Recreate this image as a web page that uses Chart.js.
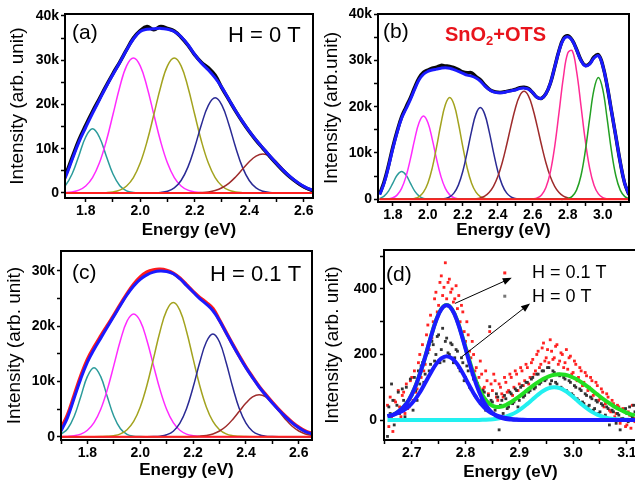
<!DOCTYPE html>
<html>
<head>
<meta charset="utf-8">
<script src="https://cdn.jsdelivr.net/npm/chart.js@4.4.0/dist/chart.umd.min.js"></script>
<style>
  html, body { margin: 0; padding: 0; background: #fff; overflow: hidden; }
  #page { position: relative; width: 635px; height: 485px; overflow: hidden; background: #fff; }
  #page canvas { position: absolute; }
</style>
</head>
<body>
<div id="page">
  <canvas id="chartC" width="320" height="250" style="left:0;top:235px"></canvas>
  <canvas id="chartD" width="330" height="250" style="left:320px;top:235px"></canvas>
  <canvas id="chartA" width="320" height="245" style="left:0;top:0"></canvas>
  <canvas id="chartB" width="315" height="245" style="left:320px;top:0"></canvas>
</div>
<script>
// ---------- (a) H = 0 T, intensities in k ----------
var energyA = [1.70, 1.725, 1.75, 1.775, 1.80, 1.825, 1.85, 1.875, 1.90, 1.925, 1.95, 1.975, 2.00, 2.025,
    2.05, 2.075, 2.10, 2.125, 2.15, 2.175, 2.20, 2.225, 2.25, 2.275, 2.30, 2.325, 2.35, 2.375, 2.40,
    2.425, 2.45, 2.475, 2.50, 2.525, 2.55, 2.575, 2.60, 2.625, 2.65];
var spectrumA = [1.2, 4.0, 8.0, 12.0, 15.3, 18.4, 21.3, 24.2, 27.0, 29.6, 32.4, 35.0, 36.7, 37.6, 36.9, 37.6,
    37.2, 36.6, 35.2, 33.4, 31.2, 29.5, 28.3, 26.6, 23.7, 21.1, 18.5, 16.1, 13.9, 11.9, 10.1, 8.3, 6.6,
    5.0, 3.6, 2.4, 1.4, 0.7, 0.3];
var fitA = [0.8, 3.5, 7.5, 11.5, 14.8, 18.0, 21.0, 24.0, 26.8, 29.5, 32.3, 34.8, 36.5, 37.0, 37.1, 37.2,
    37.0, 36.5, 35.3, 33.5, 31.3, 29.3, 27.8, 26.0, 23.8, 21.2, 18.6, 16.2, 14.0, 12.0, 10.2, 8.4, 6.7,
    5.1, 3.7, 2.5, 1.5, 0.8, 0.4];
var peak1A = [0.49, 1.66, 4.28, 8.43, 12.66, 14.5, 12.66, 8.43, 4.28, 1.66, 0.49, 0.11, 0.02,
    0, 0, 0, 0, 0, 0, 0, 0, 0, 0, 0, 0, 0, 0, 0, 0, 0, 0, 0, 0, 0, 0, 0, 0, 0, 0];
var peak2A = [0.02, 0.07, 0.23, 0.64, 1.59, 3.48, 6.76, 11.63, 17.73, 23.97, 28.72, 30.5, 28.72, 23.97,
    17.73, 11.63, 6.76, 3.48, 1.59, 0.64, 0.23, 0.07, 0.02, 0, 0, 0, 0, 0, 0, 0, 0, 0, 0, 0, 0, 0, 0, 0, 0];
var peak3A = [0, 0, 0, 0, 0, 0, 0.02, 0.07, 0.23, 0.64, 1.59, 3.48, 6.76, 11.63, 17.73, 23.97, 28.72, 30.5,
    28.72, 23.97, 17.73, 11.63, 6.76, 3.48, 1.59, 0.64, 0.23, 0.07, 0.02, 0, 0, 0, 0, 0, 0, 0, 0, 0, 0];
var peak4A = [0, 0, 0, 0, 0, 0, 0, 0, 0, 0, 0, 0, 0, 0, 0.03, 0.12, 0.40, 1.15, 2.82, 5.85, 10.34, 15.53,
    19.82, 21.5, 19.82, 15.53, 10.34, 5.85, 2.82, 1.15, 0.40, 0.12, 0.03, 0, 0, 0, 0, 0, 0];
var peak5A = [0, 0, 0, 0, 0, 0, 0, 0, 0, 0, 0, 0, 0, 0, 0, 0, 0, 0, 0, 0, 0.03, 0.10, 0.25, 0.58, 1.19,
    2.19, 3.62, 5.34, 7.05, 8.32, 8.8, 8.32, 7.05, 5.34, 3.62, 2.19, 1.19, 0.58, 0.25];

// ---------- (b) SnO2+OTS ----------
var energyB = [1.725, 1.75, 1.775, 1.80, 1.825, 1.85, 1.875, 1.90, 1.925, 1.95, 1.975, 2.00, 2.025, 2.05,
    2.075, 2.10, 2.125, 2.15, 2.175, 2.20, 2.225, 2.25, 2.275, 2.30, 2.325, 2.35, 2.375, 2.40, 2.425,
    2.45, 2.475, 2.50, 2.525, 2.55, 2.575, 2.60, 2.625, 2.65, 2.675, 2.70, 2.725, 2.75, 2.775, 2.80,
    2.825, 2.85, 2.875, 2.90, 2.925, 2.95, 2.975, 3.00, 3.025, 3.05, 3.075, 3.10, 3.125, 3.15];
var spectrumB = [1.2, 3.8, 7.3, 11.3, 14.8, 17.8, 19.9, 21.9, 24.2, 26.2, 27.4, 27.9, 28.3, 28.5, 28.9,
    28.8, 28.7, 28.4, 28.0, 27.5, 27.3, 27.3, 26.5, 25.8, 24.7, 23.8, 23.3, 23.1, 23.1, 23.3, 23.5, 23.7,
    24.1, 24.2, 23.9, 23.0, 22.0, 21.8, 22.8, 25.0, 28.5, 32.1, 34.7, 35.3, 34.4, 32.4, 30.1, 28.9, 29.3,
    30.7, 31.2, 28.9, 24.5, 19.0, 13.5, 8.0, 3.5, 1.0];
var fitB = [1.0, 3.5, 7.0, 11.0, 14.5, 17.5, 19.5, 21.5, 23.8, 25.8, 27.0, 27.6, 27.9, 28.1, 28.3, 28.4,
    28.3, 28.0, 27.6, 27.2, 26.8, 26.6, 26.2, 25.5, 24.5, 23.7, 23.2, 23.0, 23.0, 23.2, 23.4, 23.6, 23.9,
    24.0, 23.8, 23.0, 22.0, 21.8, 22.8, 25.0, 28.5, 32.0, 34.5, 35.1, 34.3, 32.3, 30.0, 28.8, 29.2, 30.5,
    31.0, 28.8, 24.5, 19.0, 13.5, 8.0, 3.5, 1.0];
var peak1B = [0.20, 0.69, 1.77, 3.49, 5.24, 6, 5.24, 3.49, 1.77, 0.69, 0.20, 0.05,
    0, 0, 0, 0, 0, 0, 0, 0, 0, 0, 0, 0, 0, 0, 0, 0, 0, 0, 0, 0, 0, 0, 0, 0, 0, 0, 0, 0, 0, 0, 0, 0, 0, 0,
    0, 0, 0, 0, 0, 0, 0, 0, 0, 0, 0, 0];
var peak2B = [0.01, 0.03, 0.10, 0.33, 0.96, 2.36, 4.90, 8.66, 13.0, 16.59, 18, 16.59, 13.0, 8.66, 4.90,
    2.36, 0.96, 0.33, 0.10, 0.03,
    0, 0, 0, 0, 0, 0, 0, 0, 0, 0, 0, 0, 0, 0, 0, 0, 0, 0, 0, 0, 0, 0, 0, 0, 0, 0, 0, 0, 0, 0, 0, 0, 0, 0,
    0, 0, 0, 0];
var peak3B = [0, 0, 0, 0, 0, 0, 0, 0.05, 0.19, 0.59, 1.54, 3.46, 6.74, 11.31, 16.36, 20.43, 22, 20.43,
    16.36, 11.31, 6.74, 3.46, 1.54, 0.59, 0.19, 0.05,
    0, 0, 0, 0, 0, 0, 0, 0, 0, 0, 0, 0, 0, 0, 0, 0, 0, 0, 0, 0, 0, 0, 0, 0, 0, 0, 0, 0, 0, 0, 0, 0];
var peak4B = [0, 0, 0, 0, 0, 0, 0, 0, 0, 0, 0, 0, 0, 0, 0.05, 0.17, 0.53, 1.38, 3.12, 6.06, 10.18, 14.73,
    18.39, 19.8, 18.39, 14.73, 10.18, 6.06, 3.12, 1.38, 0.53, 0.17, 0.05,
    0, 0, 0, 0, 0, 0, 0, 0, 0, 0, 0, 0, 0, 0, 0, 0, 0, 0, 0, 0, 0, 0, 0, 0, 0];
var peak5B = [0, 0, 0, 0, 0, 0, 0, 0, 0, 0, 0, 0, 0, 0, 0, 0, 0, 0, 0, 0, 0, 0.05, 0.12, 0.31, 0.70,
    1.46, 2.80, 4.91, 7.90, 11.66, 15.79, 19.60, 22.31, 23.3, 22.31, 19.60, 15.79, 11.66, 7.90, 4.91,
    2.80, 1.46, 0.70, 0.31, 0.12, 0.05, 0, 0, 0, 0, 0, 0, 0, 0, 0, 0, 0, 0];
var peak6B = [0, 0, 0, 0, 0, 0, 0, 0, 0, 0, 0, 0, 0, 0, 0, 0, 0, 0, 0, 0, 0, 0, 0, 0, 0, 0, 0, 0, 0, 0,
    0, 0, 0, 0, 0, 0.08, 0.30, 0.94, 2.54, 5.82, 11.33, 18.76, 26.39, 31.56, 32.08, 27.71, 20.35, 12.70,
    6.74, 3.04, 1.16, 0.38, 0.10, 0.02, 0, 0, 0, 0];
var peak7B = [0, 0, 0, 0, 0, 0, 0, 0, 0, 0, 0, 0, 0, 0, 0, 0, 0, 0, 0, 0, 0, 0, 0, 0, 0, 0, 0, 0, 0, 0,
    0, 0, 0, 0, 0, 0, 0, 0, 0, 0, 0, 0, 0, 0.17, 0.64, 1.99, 5.04, 10.38, 17.40, 23.72, 26.3, 23.72,
    17.40, 10.38, 5.04, 1.99, 0.64, 0.17];

// ---------- (c) H = 0.1 T (same grid as a) ----------
var spectrumC = [1.5, 4.0, 7.5, 11.0, 14.0, 16.2, 18.2, 20.1, 22.0, 24.0, 25.9, 27.6, 28.9, 29.8, 30.2,
    30.3, 30.1, 29.6, 28.7, 27.5, 26.3, 25.2, 24.3, 23.2, 21.1, 18.9, 16.7, 14.6, 12.6, 10.8, 9.1, 7.6,
    6.2, 4.9, 3.7, 2.6, 1.7, 1.0, 0.6];
var fitC = [1.0, 3.5, 7.0, 10.5, 13.5, 15.8, 17.8, 19.8, 21.8, 23.8, 25.7, 27.3, 28.5, 29.3, 29.8, 30.0,
    29.9, 29.5, 28.6, 27.4, 26.2, 25.0, 24.0, 22.8, 21.0, 18.8, 16.6, 14.5, 12.5, 10.7, 9.0, 7.5, 6.1,
    4.8, 3.6, 2.5, 1.6, 0.9, 0.5];
var peak1C = [0.42, 1.43, 3.69, 7.27, 10.91, 12.5, 10.91, 7.27, 3.69, 1.43, 0.42, 0.09, 0.02,
    0, 0, 0, 0, 0, 0, 0, 0, 0, 0, 0, 0, 0, 0, 0, 0, 0, 0, 0, 0, 0, 0, 0, 0, 0, 0];
var peak2C = [0.01, 0.05, 0.17, 0.47, 1.16, 2.53, 4.92, 8.47, 12.91, 17.45, 20.91, 22.2, 20.91, 17.45,
    12.91, 8.47, 4.92, 2.53, 1.16, 0.47, 0.17, 0.05, 0.01, 0, 0, 0, 0, 0, 0, 0, 0, 0, 0, 0, 0, 0, 0, 0, 0];
var peak3C = [0, 0, 0, 0, 0, 0, 0.02, 0.06, 0.18, 0.51, 1.27, 2.77, 5.39, 9.27, 14.13, 19.10, 22.88, 24.3,
    22.88, 19.10, 14.13, 9.27, 5.39, 2.77, 1.27, 0.51, 0.18, 0.06, 0.02, 0, 0, 0, 0, 0, 0, 0, 0, 0, 0];
var peak4C = [0, 0, 0, 0, 0, 0, 0, 0, 0, 0, 0, 0, 0, 0, 0.03, 0.10, 0.35, 0.99, 2.44, 5.06, 8.95, 13.43,
    17.15, 18.6, 17.15, 13.43, 8.95, 5.06, 2.44, 0.99, 0.35, 0.10, 0.03, 0, 0, 0, 0, 0, 0];
var peak5C = [0, 0, 0, 0, 0, 0, 0, 0, 0, 0, 0, 0, 0, 0, 0, 0, 0, 0, 0, 0, 0.03, 0.09, 0.22, 0.50, 1.03,
    1.89, 3.13, 4.61, 6.09, 7.19, 7.6, 7.19, 6.09, 4.61, 3.13, 1.89, 1.03, 0.50, 0.22];

// ---------- (d) difference spectra ----------
var energyD = [2.655, 2.665, 2.675, 2.685, 2.695, 2.705, 2.715, 2.725, 2.735, 2.745, 2.755, 2.765, 2.775,
    2.785, 2.795, 2.805, 2.815, 2.825, 2.835, 2.845, 2.855, 2.865, 2.875, 2.885, 2.895, 2.905, 2.915,
    2.925, 2.935, 2.945, 2.955, 2.965, 2.975, 2.985, 2.995, 3.005, 3.015, 3.025, 3.035, 3.045, 3.055,
    3.065, 3.075, 3.085, 3.095, 3.105, 3.115];
var band1HighField = [12, 16, 26, 40, 62, 95, 140, 192, 250, 302, 338, 350, 337, 300, 247, 189, 133, 87,
    53, 30, 15, 7, 3, 1.4, 0.5, 0, 0, 0, 0, 0, 0, 0, 0, 0, 0, 0, 0, 0, 0, 0, 0, 0, 0, 0, 0, 0, 0];
var band1ZeroField = [12, 15, 22, 30, 42, 60, 84, 113, 143, 170, 188, 195, 188, 170, 143, 112, 82, 57,
    38, 24, 16, 10, 6, 3, 1.5, 0.6, 0, 0, 0, 0, 0, 0, 0, 0, 0, 0, 0, 0, 0, 0, 0, 0, 0, 0, 0, 0, 0];
var totalHighField = [12, 16, 26, 40, 62, 95, 140, 192, 250, 303, 339, 351, 338, 302, 250, 194, 140, 97,
    67, 49, 40.5, 40.4, 45.9, 55.1, 66.1, 78.3, 91.4, 104.1, 115.8, 125.9, 133.5, 138.3, 140, 138.3,
    133.5, 125.9, 115.8, 104.1, 91.4, 78.3, 65.6, 53.7, 42.9, 33.4, 25.5, 18.9, 13.8];
var band2ZeroField = [0, 0, 0, 0, 0, 0, 0, 0, 0, 0, 0, 0, 0, 0, 0, 0, 0, 0, 0.8, 1.7, 3.2, 5.9, 10.1,
    16.3, 24.9, 36.0, 49.2, 63.5, 77.5, 89.3, 97.2, 100, 97.2, 89.3, 77.5, 63.5, 49.2, 36.0, 24.9, 16.3,
    10.1, 5.9, 3.2, 1.7, 0.8, 0.4, 0.2];

// measured points, two interleaved scans on a 5 meV step
var scanEnergy = Array.from({ length: 93 }, (_, i) => +(2.655 + i * 0.005).toFixed(4));
var scanEnergyOffset = scanEnergy.map(e => +(e + 0.0025).toFixed(4));
var highFieldScan1 = [45, 70, -35, 55, 90, 10, 85, 110, 40, 130, 150, 95, 200, 230, 170, 290, 320, 300,
    390, 350, 440, 405, 370, 430, 400, 370, 340, 300, 330, 240, 260, 190, 200, 160, 130, 140, 100, 120,
    270, 90, 120, 60, 100, 70, 115, 90, 130, 100, 140, 110, 150, 120, 160, 130, 185, 150, 210, 170, 235,
    190, 175, 210, 190, 230, 180, 200, 175, 155, 195, 145, 170, 130, 150, 115, 135, 100, 120, 80, 105,
    65, 85, 50, 70, 25, 50, 20, 40, 5, 30, -15, 15, 45, -5];
var highFieldScan2 = [-20, 10, 60, 0, 40, 75, 20, 35, 120, 60, 85, 175, 130, 150, 260, 215, 250, 370,
    330, 420, 380, 480, 420, 390, 360, 410, 380, 350, 270, 300, 210, 240, 150, 110, 180, 95, 150, 80,
    110, 140, 70, 110, 80, 130, 85, 140, 75, 150, 90, 160, 105, 170, 110, 175, 140, 200, 160, 220, 180,
    215, 245, 185, 225, 170, 205, 160, 215, 190, 140, 180, 120, 160, 105, 145, 90, 130, 75, 115, 60, 95,
    40, 80, 30, 60, 10, 45, -10, 35, -20, 25, -25, 5, 20];
var zeroFieldScan1 = [-50, 20, 60, 0, 85, 30, 60, 100, 45, 75, 130, 60, 110, 175, 140, 205, 170, 230, 200,
    260, 215, 180, 250, 200, 230, 190, 210, 150, 175, 130, 150, 95, 125, 70, 100, 60, 85, 40, 285, 55,
    30, 70, 45, 20, 65, 40, 80, 55, 90, 60, 105, 75, 115, 90, 130, 100, 140, 115, 150, 125, 160, 120,
    145, 110, 135, 95, 125, 85, 115, 75, 100, 60, 90, 50, 75, 45, 65, 35, 55, 25, 45, 15, 35, 5, 25, -10,
    15, 30, 0, 20, 40, 10, 25];
var zeroFieldScan2 = [40, 110, -15, 45, 20, 95, 10, 55, 125, 30, 90, 150, 165, 115, 200, 150, 240, 180,
    255, 175, 280, 240, 205, 235, 175, 215, 160, 190, 120, 165, 100, 140, 75, 110, 50, 90, 30, 75, 60,
    20, 80, -30, 60, 75, 35, 85, 50, 95, 40, 100, 70, 115, 85, 125, 95, 140, 110, 150, 120, 160, 110,
    150, 115, 140, 100, 130, 90, 120, 80, 105, 65, 95, 55, 80, 40, 70, 30, 60, 20, 50, 10, 40, -15, 30,
    0, 20, -30, 5, 35, -5, 15, 45, 0];

var FONT = "'Liberation Sans', Arial, Helvetica, sans-serif";
var COLORS = {
    teal: '#2b9b9b', magenta: '#ff2bff', olive: '#a3a31f', navy: '#2a2a94', brown: '#9e2b2b',
    pink: '#ff2b95', green: '#23a023', fit: '#1a1aff', base: '#ff2020'
};

function pts(xs, ys) {
    return xs.map((x, i) => ({ x: x, y: ys[i] }));
}

function curve(xs, ys, color, width) {
    return { data: pts(xs, ys), borderColor: color, borderWidth: width, pointRadius: 0, tension: 0.4, fill: false };
}

function dots(xs, ys, color) {
    return {
        data: pts(xs, ys), showLine: false, pointRadius: 2, pointStyle: 'rect',
        pointBackgroundColor: color, pointBorderWidth: 0, borderColor: color
    };
}

function nearMultiple(v, step) {
    return Math.abs(v / step - Math.round(v / step)) < 1e-6;
}

// frame, panel letters, captions and arrows
function decorPlugin(d) {
    return {
        id: 'decor',
        afterDatasetsDraw(chart) {
            const { ctx, chartArea: area, scales } = chart;
            ctx.save();
            ctx.strokeStyle = '#000';
            ctx.lineWidth = 2;
            ctx.strokeRect(area.left, area.top, area.right - area.left, area.bottom - area.top);

            ctx.textBaseline = 'middle';
            ctx.textAlign = 'left';
            for (const t of d.texts || []) {
                let x = area.left + t.dx;
                const y = area.top + t.dy;
                ctx.fillStyle = t.color || '#000';
                for (const part of t.parts) {
                    ctx.font = part.sub ? t.subFont : t.font;
                    ctx.fillText(part.s, x, part.sub ? y + 6 : y);
                    x += ctx.measureText(part.s).width;
                }
            }

            for (const m of d.markers || []) {
                ctx.fillStyle = m.color;
                ctx.fillRect(scales.x.getPixelForValue(m.at[0]) - 1.5, scales.y.getPixelForValue(m.at[1]) - 1.5, 3, 3);
            }

            ctx.fillStyle = '#000';
            ctx.lineWidth = 1;
            for (const a of d.arrows || []) {
                const x1 = scales.x.getPixelForValue(a.from[0]), y1 = scales.y.getPixelForValue(a.from[1]);
                const x2 = scales.x.getPixelForValue(a.to[0]), y2 = scales.y.getPixelForValue(a.to[1]);
                const ang = Math.atan2(y2 - y1, x2 - x1);
                ctx.beginPath();
                ctx.moveTo(x1, y1);
                ctx.lineTo(x2 - 6 * Math.cos(ang), y2 - 6 * Math.sin(ang));
                ctx.stroke();
                ctx.beginPath();
                ctx.moveTo(x2, y2);
                ctx.lineTo(x2 - 9 * Math.cos(ang) + 3.5 * Math.sin(ang), y2 - 9 * Math.sin(ang) - 3.5 * Math.cos(ang));
                ctx.lineTo(x2 - 9 * Math.cos(ang) - 3.5 * Math.sin(ang), y2 - 9 * Math.sin(ang) + 3.5 * Math.cos(ang));
                ctx.closePath();
                ctx.fill();
            }
            ctx.restore();
        }
    };
}

function buildPanel(canvasId, cfg) {
    var tickFont = { family: FONT, size: 14, weight: 'bold' };
    return new Chart(document.getElementById(canvasId), {
        type: 'line',
        data: { datasets: cfg.datasets },
        options: {
            responsive: false,
            animation: false,
            devicePixelRatio: 1,
            layout: { padding: { top: cfg.padTop, right: cfg.padRight, left: 0, bottom: 0 } },
            plugins: { legend: { display: false }, tooltip: { enabled: false } },
            scales: {
                x: {
                    type: 'linear',
                    min: cfg.xMin,
                    max: cfg.xMax,
                    afterFit: function (s) { s.height = cfg.xAxisHeight; },
                    border: { display: false },
                    grid: { drawOnChartArea: false, tickLength: 4, tickColor: '#000', tickWidth: 1.5 },
                    ticks: {
                        stepSize: cfg.xMinor, includeBounds: false, autoSkip: false, maxRotation: 0,
                        padding: 1, color: '#000', font: tickFont,
                        callback: function (v) { return nearMultiple(v, cfg.xMajor) ? v.toFixed(1) : ''; }
                    },
                    title: {
                        display: true, text: 'Energy (eV)', color: '#000',
                        font: { family: FONT, size: 17, weight: 'bold' },
                        padding: { top: 0, bottom: cfg.xTitlePad }
                    }
                },
                y: {
                    min: cfg.yMin,
                    max: cfg.yMax,
                    afterFit: function (s) { s.width = cfg.yAxisWidth; },
                    border: { display: false },
                    grid: { drawOnChartArea: false, tickLength: 4, tickColor: '#000', tickWidth: 1.5 },
                    ticks: {
                        stepSize: cfg.yMinor, includeBounds: false, autoSkip: false,
                        padding: cfg.yTickPad, color: '#000', font: tickFont,
                        callback: function (v) {
                            if (!nearMultiple(v, cfg.yMajor)) return '';
                            return v === 0 ? '0' : Math.round(v) + cfg.ySuffix;
                        }
                    },
                    title: {
                        display: true, text: cfg.yTitle, color: '#000',
                        font: { family: FONT, size: 19, weight: 'normal' },
                        padding: { top: cfg.yTitlePad, bottom: 0 }
                    }
                }
            }
        },
        plugins: [decorPlugin(cfg.decor)]
    });
}

var labelFont = 'normal 21px ' + FONT;

// datasets are listed top layer first
buildPanel('chartA', {
    datasets: [
        curve([energyA[0], energyA[energyA.length - 1]], [0, 0], COLORS.base, 2),
        curve(energyA, fitA, COLORS.fit, 3),
        curve(energyA, spectrumA, '#0a0a0a', 3.5),
        curve(energyA, peak5A, COLORS.brown, 1.5),
        curve(energyA, peak4A, COLORS.navy, 1.5),
        curve(energyA, peak3A, COLORS.olive, 1.5),
        curve(energyA, peak2A, COLORS.magenta, 1.5),
        curve(energyA, peak1A, COLORS.teal, 1.5)
    ],
    padTop: 14, padRight: 7, xAxisHeight: 47, yAxisWidth: 65,
    xMin: 1.724, xMax: 2.634, xMinor: 0.1, xMajor: 0.2,
    yMin: -1.13, yMax: 40.45, yMinor: 5, yMajor: 10, ySuffix: 'k', yTickPad: 2,
    yTitle: 'Intensity (arb. unit)', yTitlePad: 6.6, xTitlePad: 4,
    decor: {
        texts: [
            { dx: 7, dy: 19, font: labelFont, parts: [{ s: '(a)' }] },
            { dx: 163, dy: 22, font: 'normal 22px ' + FONT, parts: [{ s: 'H = 0 T' }] }
        ]
    }
});

buildPanel('chartB', {
    datasets: [
        curve([energyB[0], energyB[energyB.length - 1]], [0, 0], COLORS.base, 2),
        curve(energyB, fitB, COLORS.fit, 3),
        curve(energyB, spectrumB, '#0a0a0a', 3.5),
        curve(energyB, peak7B, COLORS.green, 1.5),
        curve(energyB, peak6B, COLORS.pink, 1.5),
        curve(energyB, peak5B, COLORS.brown, 1.5),
        curve(energyB, peak4B, COLORS.navy, 1.5),
        curve(energyB, peak3B, COLORS.olive, 1.5),
        curve(energyB, peak2B, COLORS.magenta, 1.5),
        curve(energyB, peak1B, COLORS.teal, 1.5)
    ],
    padTop: 14, padRight: 6, xAxisHeight: 43, yAxisWidth: 58,
    xMin: 1.715, xMax: 3.15, xMinor: 0.1, xMajor: 0.2,
    yMin: -0.58, yMax: 40, yMinor: 5, yMajor: 10, ySuffix: 'k', yTickPad: 2,
    yTitle: 'Intensity (arb.unit)', yTitlePad: 0, xTitlePad: 4,
    decor: {
        texts: [
            { dx: 5, dy: 18, font: labelFont, parts: [{ s: '(b)' }] },
            {
                dx: 67, dy: 21, color: '#e8141c', font: 'bold 20px ' + FONT, subFont: 'bold 13px ' + FONT,
                parts: [{ s: 'SnO' }, { s: '2', sub: true }, { s: '+OTS' }]
            }
        ]
    }
});

buildPanel('chartC', {
    datasets: [
        curve([energyA[0], energyA[energyA.length - 1]], [0, 0], COLORS.base, 2),
        curve(energyA, fitC, COLORS.fit, 3),
        curve(energyA, spectrumC, '#ff1a1a', 3.5),
        curve(energyA, peak5C, COLORS.brown, 1.5),
        curve(energyA, peak4C, COLORS.navy, 1.5),
        curve(energyA, peak3C, COLORS.olive, 1.5),
        curve(energyA, peak2C, COLORS.magenta, 1.5),
        curve(energyA, peak1C, COLORS.teal, 1.5)
    ],
    padTop: 16, padRight: 8, xAxisHeight: 45, yAxisWidth: 61,
    xMin: 1.70, xMax: 2.65, xMinor: 0.1, xMajor: 0.2,
    yMin: -0.6, yMax: 33.62, yMinor: 5, yMajor: 10, ySuffix: 'k', yTickPad: 2,
    yTitle: 'Intensity (arb. unit)', yTitlePad: 3, xTitlePad: 4,
    decor: {
        texts: [
            { dx: 11, dy: 22, font: labelFont, parts: [{ s: '(c)' }] },
            { dx: 149, dy: 24, font: 'normal 22px ' + FONT, parts: [{ s: 'H = 0.1 T' }] }
        ]
    }
});

buildPanel('chartD', {
    datasets: [
        curve(energyD, band1HighField, '#1c1cff', 4),
        curve(energyD, band1ZeroField, '#1c1cff', 4),
        curve(energyD, band2ZeroField, '#22f0f0', 4),
        curve(energyD, totalHighField, '#22e022', 4),
        dots(scanEnergy, zeroFieldScan1, '#333333'),
        dots(scanEnergyOffset, zeroFieldScan2, '#333333'),
        dots(scanEnergy, highFieldScan1, '#ff2222'),
        dots(scanEnergyOffset, highFieldScan2, '#ff2222')
    ],
    padTop: 15, padRight: 13, xAxisHeight: 45, yAxisWidth: 64,
    xMin: 2.6485, xMax: 3.1188, xMinor: 0.05, xMajor: 0.1,
    yMin: -61, yMax: 519, yMinor: 100, yMajor: 200, ySuffix: '', yTickPad: 3,
    yTitle: 'Intensity (arb. unit)', yTitlePad: 1.6, xTitlePad: 2,
    decor: {
        texts: [
            { dx: 2, dy: 25, font: labelFont, parts: [{ s: '(d)' }] },
            { dx: 148, dy: 23, font: 'normal 18px ' + FONT, parts: [{ s: 'H = 0.1 T' }] },
            { dx: 148, dy: 47, font: 'normal 18px ' + FONT, parts: [{ s: 'H = 0 T' }] }
        ],
        markers: [
            { at: [2.873, 449], color: '#ff2222' },
            { at: [2.873, 378], color: '#777777' }
        ],
        arrows: [
            { from: [2.7805, 356], to: [2.886, 434] },
            { from: [2.793, 193], to: [2.92, 356] }
        ]
    }
});
</script>
</body>
</html>
